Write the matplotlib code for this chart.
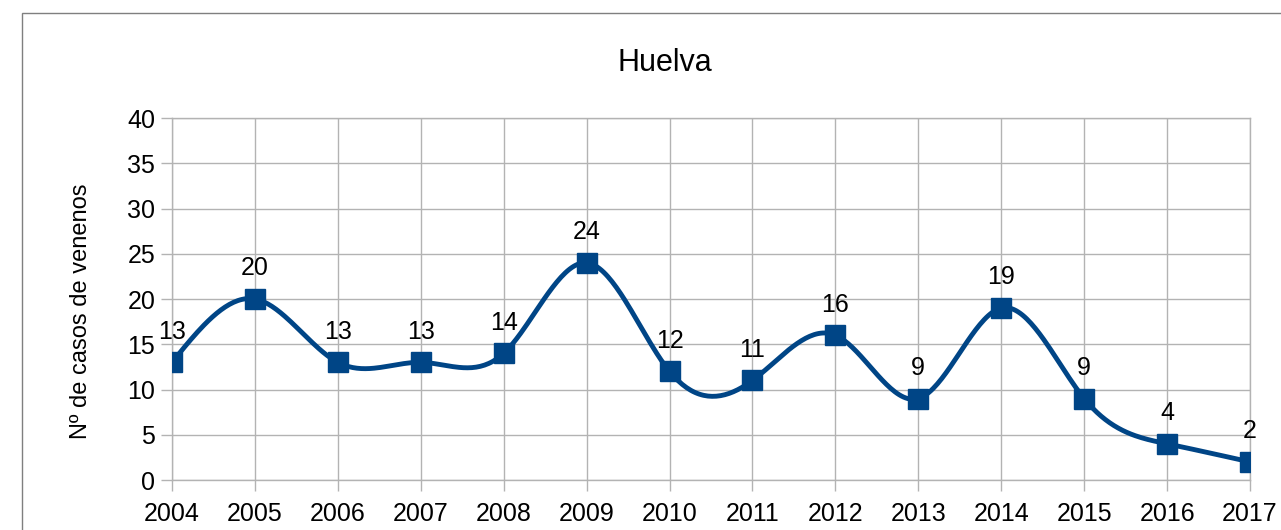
import matplotlib
matplotlib.use("Agg")
import matplotlib.pyplot as plt
from matplotlib.patches import Rectangle
import numpy as np

plt.rcParams['font.family'] = ['Liberation Sans', 'DejaVu Sans']

years = [2004, 2005, 2006, 2007, 2008, 2009, 2010, 2011, 2012, 2013, 2014, 2015, 2016, 2017]
casos = [13, 20, 13, 13, 14, 24, 12, 11, 16, 9, 19, 9, 4, 2]
titulo = "Huelva"
ylabel = "Nº de casos de venenos"
color = "#004586"


# natural cubic spline through the data points (same smoothing as the original chart)
def spline(x, y, n=40):
    x = np.asarray(x, float)
    y = np.asarray(y, float)
    k = len(x)
    h = np.diff(x)
    A = np.zeros((k, k))
    r = np.zeros(k)
    A[0, 0] = 1
    A[-1, -1] = 1
    for i in range(1, k - 1):
        A[i, i - 1] = h[i - 1]
        A[i, i] = 2 * (h[i - 1] + h[i])
        A[i, i + 1] = h[i]
        r[i] = 3 * ((y[i + 1] - y[i]) / h[i] - (y[i] - y[i - 1]) / h[i - 1])
    c = np.linalg.solve(A, r)
    xs, ys = [], []
    for i in range(k - 1):
        b = (y[i + 1] - y[i]) / h[i] - h[i] * (2 * c[i] + c[i + 1]) / 3
        d = (c[i + 1] - c[i]) / (3 * h[i])
        t = np.linspace(0, h[i], n)
        xs.append(x[i] + t)
        ys.append(y[i] + b * t + c[i] * t**2 + d * t**3)
    return np.concatenate(xs), np.concatenate(ys)


fig = plt.figure(figsize=(12.81, 5.30), dpi=100)
ax = fig.add_axes([172 / 1281, 1 - 480 / 530, (1250 - 172) / 1281, (480 - 118) / 530])

# outer chart border (cropped at right and bottom)
fig.patches.append(Rectangle((22 / 1281, -0.1), 1.2, 1 - 13 / 530 + 0.1,
                             transform=fig.transFigure, fill=False,
                             edgecolor="#7f7f7f", linewidth=1.0))

sx, sy = spline(years, casos)
ax.plot(sx, sy, color=color, linewidth=3.5, zorder=3, solid_capstyle="round")
ax.plot(years, casos, linestyle="none", marker="s", markersize=14,
        color=color, zorder=4)

for x, v in zip(years, casos):
    ax.annotate(str(v), (x, v), xytext=(0, 22), textcoords="offset points",
                ha="center", va="center", fontsize=18, color="black", zorder=5)

ax.set_xlim(years[0], years[-1])
ax.set_ylim(0, 40)
ax.set_xticks(years)
ax.set_yticks(range(0, 41, 5))
ax.grid(True, color="#b3b3b3", linewidth=1.0)
ax.set_axisbelow(True)
for s in ax.spines.values():
    s.set_color("#b3b3b3")
    s.set_linewidth(1.0)
ax.tick_params(axis="both", colors="#b3b3b3", labelcolor="black", labelsize=18,
               length=8, width=1.0)
ax.tick_params(axis="x", pad=8)
ax.tick_params(axis="y", pad=4)

fig.text(665 / 1281, 1 - 63 / 530, titulo, fontsize=22, ha="center", va="center")
ax.set_ylabel(ylabel, fontsize=17)
ax.yaxis.set_label_coords((92 - 172) / (1250 - 172), 0.467)

fig.savefig("out.png", dpi=100)
